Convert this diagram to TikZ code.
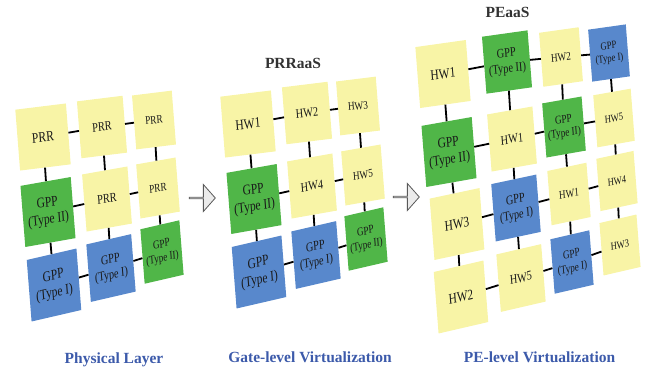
\documentclass[tikz,border=0pt]{standalone}
\usepackage{fontspec}
\setmainfont{Liberation Serif}
\newfontfamily\tilefont[FakeStretch=0.8]{Liberation Serif}
\usepackage{tikz}
\usetikzlibrary{shapes.arrows}

\definecolor{tileyellow}{RGB}{248,244,166}
\definecolor{tilegreen}{RGB}{80,182,72}
\definecolor{tileblue}{RGB}{88,136,204}
\definecolor{layerblue}{RGB}{60,90,170}

\tikzset{
  tile/.style={inner sep=0pt, align=center, text=black!90},
  ytile/.style={tile, fill=tileyellow},
  gtile/.style={tile, fill=tilegreen},
  btile/.style={tile, fill=tileblue},
  colA/.style={minimum width=51pt, minimum height=61pt, font=\tilefont\fontsize{14.5}{17}\selectfont},
  colB/.style={minimum width=46pt, minimum height=57pt, font=\tilefont\fontsize{13}{15.5}\selectfont},
  colC/.style={minimum width=40pt, minimum height=54pt, font=\tilefont\fontsize{11.6}{13.8}\selectfont},
  colD/.style={minimum width=38pt, minimum height=52pt, font=\tilefont\fontsize{10.8}{12.8}\selectfont},
  tilt/.style={rotate=#1, xslant={tan(#1-4.5)}},
  link/.style={line width=1.8pt, black},
  title/.style={font=\bfseries\fontsize{15.5}{18}\selectfont, text=black!80},
  layer/.style={font=\bfseries\fontsize{15.5}{18}\selectfont, text=layerblue},
  flow/.style={single arrow, draw=black!65, fill=black!8, line width=0.8pt,
    minimum height=26pt, minimum width=27pt, inner sep=0pt,
    single arrow head extend=7.5pt, single arrow tip angle=97}
}

\begin{document}
\begin{tikzpicture}[x=1pt, y=-1pt]
        \useasboundingbox (0,0) rectangle (646,368);

        % Physical layer
        \node[ytile, colA, tilt=7] (phy11) at (43,137) {PRR};
        \node[ytile, colB, tilt=7] (phy12) at (102,127) {PRR};
        \node[ytile, colC, tilt=7] (phy13) at (154,120) {PRR};
        \node[gtile, colA, tilt=10] (phy21) at (48,212) {GPP\\(Type II)};
        \node[ytile, colB, tilt=10] (phy22) at (107,199) {PRR};
        \node[ytile, colC, tilt=10] (phy23) at (158,188) {PRR};
        \node[btile, colA, tilt=13] (phy31) at (54,285) {GPP\\(Type I)};
        \node[btile, colB, tilt=13] (phy32) at (111,268) {GPP\\(Type I)};
        \node[gtile, colC, tilt=13] (phy33) at (162,252) {GPP\\(Type II)};

        % PRRaaS
        \node[ytile, colA, tilt=7] (gate11) at (248,124) {HW1};
        \node[ytile, colB, tilt=7] (gate12) at (307,113) {HW2};
        \node[ytile, colC, tilt=7] (gate13) at (358,106) {HW3};
        \node[gtile, colA, tilt=10] (gate21) at (254,199) {GPP\\(Type II)};
        \node[ytile, colB, tilt=10] (gate22) at (312,186) {HW4};
        \node[ytile, colC, tilt=10] (gate23) at (363,175) {HW5};
        \node[btile, colA, tilt=13] (gate31) at (259,272) {GPP\\(Type I)};
        \node[btile, colB, tilt=13] (gate32) at (316,255) {GPP\\(Type I)};
        \node[gtile, colC, tilt=13] (gate33) at (366,239) {GPP\\(Type II)};

        % PEaaS
        \node[ytile, colA, tilt=8] (pe11) at (443,74) {HW1};
        \node[gtile, colB, tilt=8] (pe12) at (507,62) {GPP\\(Type II)};
        \node[ytile, colC, tilt=8] (pe13) at (561,57) {HW2};
        \node[btile, colD, tilt=8] (pe14) at (609,53) {GPP\\(Type I)};
        \node[gtile, colA, tilt=10] (pe21) at (449,152) {GPP\\(Type II)};
        \node[ytile, colB, tilt=10] (pe22) at (512,139) {HW1};
        \node[gtile, colC, tilt=10] (pe23) at (564,127) {GPP\\(Type II)};
        \node[ytile, colD, tilt=10] (pe24) at (614,118) {HW5};
        \node[ytile, colA, tilt=12] (pe31) at (457,224) {HW3};
        \node[btile, colB, tilt=12] (pe32) at (516,208) {GPP\\(Type I)};
        \node[ytile, colC, tilt=12] (pe33) at (569,194) {HW1};
        \node[ytile, colD, tilt=12] (pe34) at (617,181) {HW4};
        \node[ytile, colA, tilt=13] (pe41) at (461,297) {HW2};
        \node[ytile, colB, tilt=13] (pe42) at (521,278) {HW5};
        \node[btile, colC, tilt=13] (pe43) at (572,262) {GPP\\(Type I)};
        \node[ytile, colD, tilt=13] (pe44) at (620,245) {HW3};

        % Links
        \foreach \g in {phy,gate} {
          \foreach \a/\b in {1/2,2/3} {
            \foreach \k in {1,2,3} {
              \draw[link] (\g\k\a) -- (\g\k\b);
              \draw[link] (\g\a\k) -- (\g\b\k);
            }
          }
        }
        \foreach \a/\b in {1/2,2/3,3/4} {
          \foreach \k in {1,...,4} {
            \draw[link] (pe\k\a) -- (pe\k\b);
            \draw[link] (pe\a\k) -- (pe\b\k);
          }
        }

        % Arrows
        \node[flow] (arr1) at (202,198) {};
        \node[flow] (arr2) at (406,197) {};

        % Titles
        \node[title] (prraas) at (293,63) {PRRaaS};
        \node[title] (peaas) at (507.5,12.5) {PEaaS};
        \node[layer, anchor=base] (phylabel) at (114,363) {Physical Layer};
        \node[layer, anchor=base] (gatelabel) at (310,362) {Gate-level Virtualization};
        \node[layer, anchor=base] (pelabel) at (539.5,362) {PE-level Virtualization};
      \end{tikzpicture}
\end{document}
